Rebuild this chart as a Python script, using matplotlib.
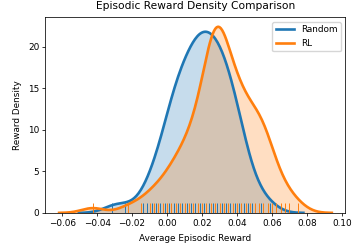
import numpy as np
import matplotlib
matplotlib.use('Agg')
import matplotlib.pyplot as plt

# average episodic reward per run: distinct rug positions and how many runs sit on each
random_values = [
    -0.03125, -0.02375, -0.01375, -0.01125, -0.00875, -0.00625, -0.00375, -0.00125,
    0.00125, 0.00375, 0.00625, 0.00875, 0.01125, 0.01375, 0.01625, 0.01875,
    0.02125, 0.02375, 0.02625, 0.02875, 0.03125, 0.03375, 0.03625, 0.03875,
    0.04125, 0.04375, 0.04625, 0.04875, 0.05375, 0.05875,
]
random_counts = [
    1, 1, 1, 1, 1, 2, 2, 2,
    4, 4, 5, 4, 5, 5, 6, 6,
    6, 5, 6, 6, 5, 5, 4, 4,
    4, 2, 1, 2, 1, 1,
]
rl_values = [
    -0.0425, -0.0225, -0.015, -0.01, -0.0075, -0.005, -0.0025, 0.0,
    0.0025, 0.005, 0.0075, 0.01, 0.0125, 0.015, 0.0175, 0.02,
    0.0225, 0.025, 0.0275, 0.03, 0.0325, 0.035, 0.0375, 0.04,
    0.0425, 0.045, 0.0475, 0.05, 0.0525, 0.055, 0.0575, 0.06,
    0.0625, 0.065, 0.0675, 0.07, 0.075,
]
rl_counts = [
    1, 1, 1, 1, 1, 1, 1, 1,
    2, 2, 2, 2, 3, 3, 3, 4,
    4, 6, 10, 9, 5, 4, 5, 5,
    4, 4, 3, 3, 4, 4, 3, 2,
    1, 1, 1, 1, 1,
]
labels = ['Random', 'RL']
colors = ['#1f77b4', '#ff7f0e']
bw = 0.0064

plt.rcParams['font.size'] = 6.4

def kde(samples, bw, cut=3, gridsize=200):
    x = np.asarray(samples)
    grid = np.linspace(x.min() - cut * bw, x.max() + cut * bw, gridsize)
    z = (grid[:, None] - x[None, :]) / bw
    dens = np.exp(-0.5 * z ** 2).sum(axis=1) / (len(x) * bw * np.sqrt(2 * np.pi))
    return grid, dens

random_rewards = np.repeat(random_values, random_counts)
rl_rewards = np.repeat(rl_values, rl_counts)

fig = plt.figure(figsize=(3.58, 2.49), dpi=100)
ax = fig.add_axes([0.127, 0.145, 0.838, 0.785])

for data, lab, c in zip([random_rewards, rl_rewards], labels, colors):
    gx, gy = kde(data, bw)
    ax.fill_between(gx, gy, color=c, alpha=0.25, lw=0)
    ax.plot(gx, gy, color=c, lw=1.9, label=lab)
    ax.vlines(np.unique(data), 0, 0.05, transform=ax.get_xaxis_transform(), colors=c, lw=0.7)

ax.set_ylim(0, None)
ax.set_title('Episodic Reward Density Comparison', fontsize=7.7)
ax.set_xlabel('Average Episodic Reward')
ax.set_ylabel('Reward Density')
ax.legend(loc='upper right')
for s in ax.spines.values():
    s.set_linewidth(0.55)
ax.tick_params(width=0.55, length=2.3, pad=2.2)

fig.savefig('out.png', dpi=100)
